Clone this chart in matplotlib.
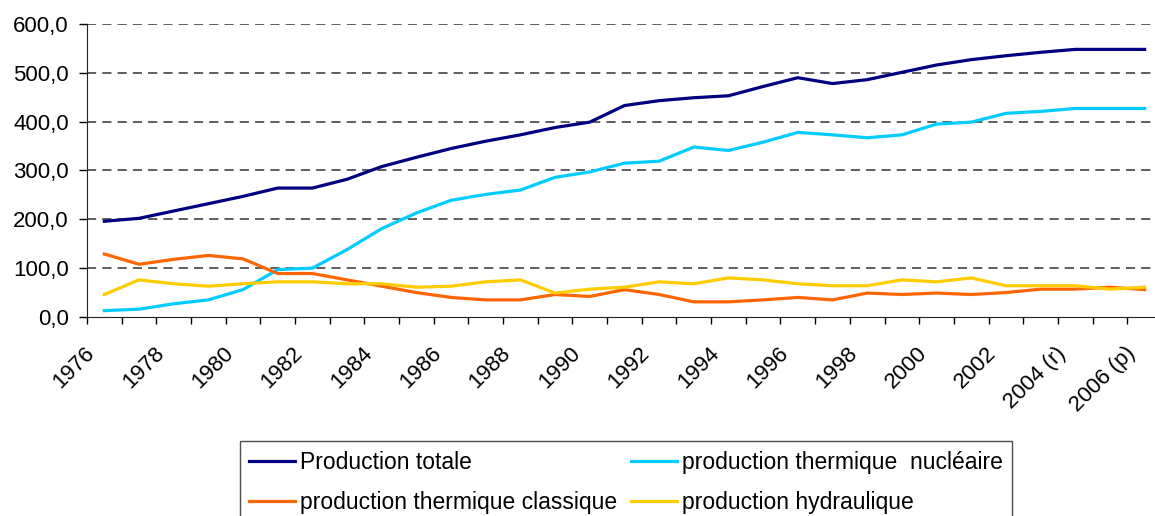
import numpy as np
import matplotlib
matplotlib.use("Agg")
from matplotlib import pyplot as plt
from matplotlib.ticker import FuncFormatter
import matplotlib.transforms as mtransforms

# annees 1976 -> 2006
years = list(range(1976, 2007))
year_labels = [str(y) for y in years]
year_labels[28] = "2004 (r)"
year_labels[30] = "2006 (p)"

total = [196, 202, 217, 232, 247, 264, 264, 282, 308, 327, 345, 360, 373, 388, 399,
         433, 443, 449, 453, 472, 490, 478, 486, 501, 516, 527, 535, 542, 548, 548, 548]
nucleaire = [13, 16, 27, 35, 56, 97, 100, 138, 181, 213, 239, 251, 260, 286, 297,
             315, 319, 348, 341, 358, 378, 373, 367, 373, 395, 399, 417, 421, 427, 427, 427]
classique = [129, 108, 118, 126, 119, 89, 89, 76, 63, 50, 40, 35, 35, 46, 42,
             56, 46, 31, 31, 35, 40, 35, 49, 46, 49, 46, 50, 57, 57, 61, 56]
hydraulique = [46, 76, 68, 63, 68, 72, 72, 68, 68, 61, 63, 72, 76, 49, 57,
               61, 72, 68, 80, 76, 68, 64, 64, 76, 72, 80, 64, 64, 64, 57, 61]

plt.rcParams['font.family'] = ['Liberation Sans', 'DejaVu Sans']

fig = plt.figure(figsize=(11.55, 5.16), dpi=100)
# plot area runs slightly past the right edge, as in the original
ax = fig.add_axes([0.0753, 0.3857, 0.9307, 0.5678])

x = np.arange(len(years))
lw = 2.3
l_tot, = ax.plot(x, total, color='#000080', lw=lw, label='Production totale')
l_nuc, = ax.plot(x, nucleaire, color='#00CCFF', lw=lw, label='production thermique  nucléaire')
l_cla, = ax.plot(x, classique, color='#FF6600', lw=lw, label='production thermique classique')
l_hyd, = ax.plot(x, hydraulique, color='#FFCC00', lw=lw, label='production hydraulique')

ax.set_xlim(-0.5, len(years) - 0.5)
ax.set_ylim(0, 600)
ax.set_yticks(np.arange(0, 601, 100))
ax.yaxis.set_major_formatter(FuncFormatter(lambda v, p: f"{v:.1f}".replace('.', ',')))
for v in range(100, 601, 100):
    ax.axhline(v, color='#333333', lw=1.1, ls=(0, (6, 4)), zorder=0)

# ticks at category edges, labels every other year
ax.set_xticks(np.arange(-0.5, len(years), 1.0))
ax.set_xticklabels([])
ax.set_xticks(x[::2], minor=True)
ax.set_xticklabels(year_labels[::2], minor=True, rotation=45, ha='right',
                   rotation_mode='anchor', fontsize=16)
ax.tick_params(axis='x', which='major', length=5, width=1, direction='out')
ax.tick_params(axis='x', which='minor', length=0, pad=12)
ax.tick_params(axis='y', length=6, width=1, labelsize=16, pad=7)

# shift the rotated labels a little left/down like the original
shift = mtransforms.ScaledTranslation(-0.20, -0.09, fig.dpi_scale_trans)
for lab in ax.get_xticklabels(minor=True):
    lab.set_transform(lab.get_transform() + shift)

for s in ['top', 'right']:
    ax.spines[s].set_visible(False)
ax.spines['left'].set_color('#222222')
ax.spines['bottom'].set_color('#222222')

leg = fig.legend([l_tot, l_cla, l_nuc, l_hyd],
                 [l_tot.get_label(), l_cla.get_label(), l_nuc.get_label(), l_hyd.get_label()],
                 loc='upper left', bbox_to_anchor=(0.2078, 0.1444), ncol=2,
                 borderaxespad=0,
                 fontsize=16.5, frameon=True, fancybox=False, edgecolor='#222222',
                 handlelength=2.0, handletextpad=0.22, columnspacing=0.6,
                 labelspacing=0.75, borderpad=0.4)
leg.get_frame().set_linewidth(1.0)

fig.savefig('out.png', dpi=100)
